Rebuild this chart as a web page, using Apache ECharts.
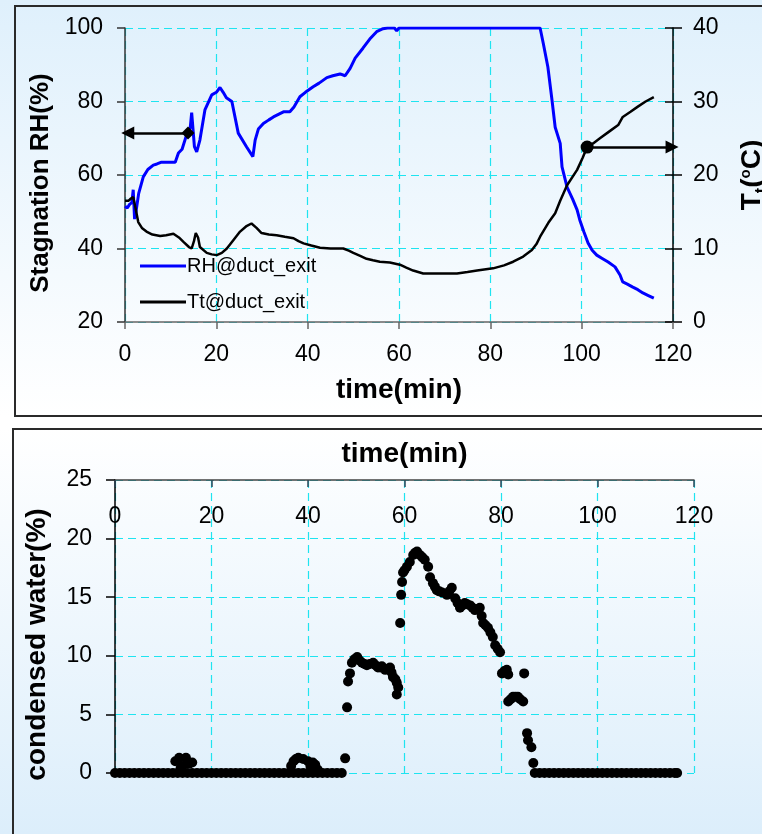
<!DOCTYPE html>
<html>
<head>
<meta charset="utf-8">
<title>Duct exit RH, temperature and condensed water</title>
<script src="https://cdn.jsdelivr.net/npm/echarts@6/dist/echarts.min.js"></script>
<style>
  html, body { margin: 0; padding: 0; width: 762px; height: 834px; overflow: hidden; background: #ffffff; }
  #bandTop { position: absolute; left: 0; top: 0; width: 762px; height: 416px; background: linear-gradient(#dff0fc, #ffffff); }
  #bandBottom { position: absolute; left: 0; top: 428px; width: 762px; height: 406px; background: linear-gradient(#ffffff, #dceefb); }
  #frameTop { position: absolute; left: 14px; top: 5px; width: 800px; height: 412px; border: 2px solid #2a2a2a; box-sizing: border-box; }
  #frameBottom { position: absolute; left: 12px; top: 428px; width: 800px; height: 500px; border: 2px solid #2a2a2a; box-sizing: border-box; }
  #chart { position: absolute; left: 0; top: 0; width: 762px; height: 834px; }
</style>
</head>
<body>
<div id="bandTop"></div>
<div id="bandBottom"></div>
<div id="frameTop"></div>
<div id="frameBottom"></div>
<div id="chart"></div>
<script>
// ---- data: [time (min), value] ----
const rhPoints = [
  [0, 51.5], [0.5, 51], [1.0, 52], [1.5, 52.5], [1.8, 56], [2.1, 48], [2.4, 50], [3.0, 55],
  [4.0, 59.5], [5.0, 61.5], [6.2, 62.7], [7.0, 63], [8.0, 63.5], [9.5, 63.5], [11.0, 63.5],
  [11.7, 66], [12.5, 67], [13.5, 71], [14.3, 73], [14.6, 77], [15.0, 77], [15.2, 67.7],
  [15.7, 66.3], [16.4, 69.5], [17.5, 77.7], [19.0, 81.8], [20.0, 82.5], [20.8, 83.8],
  [21.5, 82.5], [22.2, 81], [23.4, 80], [24.8, 71.4], [26.6, 67.7], [28.0, 65], [28.5, 69.5],
  [29.2, 72.5], [30.3, 74], [31.5, 75], [32.5, 75.8], [34.7, 77.2], [36.1, 77.2], [37.0, 78.5],
  [38.3, 81.3], [39.5, 82.5], [41.2, 84], [42.5, 85], [44.2, 86.5], [45.5, 87], [47.1, 87.5],
  [48.2, 87], [49.3, 89], [50.4, 91.8], [52.1, 94.5], [53.6, 97], [55.1, 99], [56.5, 99.8],
  [57.5, 100], [59.0, 100], [59.5, 99.2], [60.0, 100], [70.0, 100], [80.0, 100], [90.9, 100],
  [91.6, 95.8], [92.6, 89.4], [93.5, 80.4], [94.2, 73], [95.3, 68.6], [95.7, 62.2], [96.8, 56.7],
  [98.0, 53.5], [99.0, 50.5], [99.6, 47.7], [100.5, 44.5], [101.4, 41.5], [102.3, 39.5],
  [103.3, 38.2], [104.5, 37.3], [105.8, 36.3], [107.3, 35], [108.4, 32.8], [109.0, 30.9],
  [110.0, 30.3], [111.2, 29.5], [112.3, 28.8], [113.4, 27.9], [114.6, 27.2], [115.8, 26.5]
];

const ttPoints = [
  [0, 16.5], [0.8, 16.5], [1.3, 16.8], [1.8, 17], [2.3, 15.5], [2.9, 13.6], [3.7, 12.8],
  [4.7, 12.3], [6, 11.9], [7.7, 11.7], [9, 11.8], [10.6, 12], [11.8, 11.5], [12.8, 10.9],
  [14, 10.2], [14.6, 10], [15.1, 11], [15.5, 12.1], [16, 11.5], [16.4, 10.2], [17.9, 9.4],
  [19, 9.2], [20.1, 9.1], [21.2, 9.4], [22.3, 10], [23.8, 11.2], [25.2, 12.3], [26.5, 13],
  [27.7, 13.4], [28.8, 12.8], [29.9, 12.1], [31.5, 11.9], [33.2, 11.8], [35, 11.6],
  [36.9, 11.4], [38, 11], [39.1, 10.7], [40.8, 10.4], [42.7, 10.1], [45, 10], [47.8, 10],
  [49, 9.7], [50, 9.4], [51.5, 9], [52.9, 8.6], [54.3, 8.4], [55.8, 8.2], [58, 8.1],
  [60.2, 7.8], [61.6, 7.4], [63.1, 7], [65.3, 6.6], [69, 6.6], [72.7, 6.6], [75, 6.8],
  [77.1, 7], [80.6, 7.3], [83, 7.7], [85, 8.2], [87.2, 8.9], [89.1, 9.8], [90.1, 10.6],
  [90.9, 11.6], [92.7, 13.5], [94.2, 14.8], [95.3, 16.5], [96.8, 18.6], [99, 20.7],
  [100.2, 22.3], [101.2, 23.8], [102.5, 24.3], [104, 25], [106, 25.9], [108, 26.8],
  [109, 27.9], [110.7, 28.6], [112.3, 29.3], [114, 30], [115.8, 30.6]
];

const waterPoints = [
  [0, 0], [1, 0], [2, 0], [3, 0], [4, 0], [5, 0], [6, 0], [7, 0], [8, 0], [9, 0], [10, 0],
  [11, 0], [12, 0], [13, 0], [14, 0], [15, 0], [16, 0], [17, 0],
  [12.5, 1.0], [13.3, 1.3], [13.6, 0.4], [14, 0.6], [14.7, 1.3], [15.3, 0.8], [16, 0.9],
  [18, 0], [19, 0], [20, 0], [21, 0], [22, 0], [23, 0], [24, 0], [25, 0], [26, 0], [27, 0],
  [28, 0], [29, 0], [30, 0], [31, 0], [32, 0], [33, 0], [34, 0], [35, 0], [36, 0], [37, 0],
  [38, 0], [39, 0], [40, 0], [41, 0], [42, 0], [43, 0], [44, 0], [45, 0], [46, 0], [47, 0],
  [36.5, 0.6], [37, 1.0], [37.5, 1.2], [38, 1.3], [39, 1.2], [40, 1.0], [40.5, 0.6],
  [41, 0.9], [41.5, 0.7], [42, 0.3],
  [47.7, 1.25], [48.1, 5.6], [48.3, 7.8], [48.7, 8.5], [49.1, 9.4], [49.6, 9.7], [50.2, 9.9],
  [50.7, 9.6], [51.2, 9.4], [51.7, 9.3], [52.2, 9.2], [52.8, 9.3], [53.5, 9.4], [54, 9.2],
  [54.5, 9.0], [55, 9.0], [55.3, 9.1], [56, 8.8], [56.5, 8.9], [57, 9.0], [57.3, 8.6],
  [57.6, 8.2], [58.1, 8.0], [58.4, 7.7], [58.7, 7.3], [58.4, 6.7],
  [59.1, 12.8], [59.3, 15.2], [59.5, 16.3], [59.7, 17.1], [60.0, 17.3], [60.5, 17.6],
  [61.1, 18.0], [61.8, 18.6], [62.2, 18.8], [62.6, 18.9], [63.2, 18.6], [63.7, 18.4],
  [64.2, 18.2], [64.9, 17.6], [65.3, 16.7], [65.9, 16.2], [66.3, 15.9], [66.7, 15.6],
  [67.2, 15.5], [67.8, 15.4], [68.8, 15.2], [69.3, 15.5], [69.8, 15.8], [70.5, 14.9],
  [71, 14.5], [71.5, 14.1], [72, 14.3], [72.5, 14.5], [73, 14.4], [73.6, 14.3], [74.1, 14.1],
  [74.6, 13.9], [75.1, 14.0], [75.6, 14.1], [76, 13.4], [76.3, 12.8], [76.8, 12.6],
  [77.3, 12.4], [77.8, 12.0], [78.3, 11.6], [78.8, 10.9], [79.3, 10.6], [79.8, 10.3],
  [80.2, 8.5], [80.7, 8.7], [81.2, 8.8], [81.5, 8.4], [84.8, 8.5],
  [81.5, 6.1], [82, 6.3], [82.5, 6.5], [83, 6.5], [83.5, 6.5], [84, 6.3], [84.6, 6.1],
  [85.4, 3.4], [85.6, 2.8], [86.3, 2.2], [86.7, 0.85],
  [87, 0], [88, 0], [89, 0], [90, 0], [91, 0], [92, 0], [93, 0], [94, 0], [95, 0], [96, 0],
  [97, 0], [98, 0], [99, 0], [100, 0], [101, 0], [102, 0], [103, 0], [104, 0], [105, 0],
  [106, 0], [107, 0], [108, 0], [109, 0], [110, 0], [111, 0], [112, 0], [113, 0], [114, 0],
  [115, 0], [116, 0], [116.5, 0]
];

// pointer arrows: from a marked point on each curve to the axis it belongs to
const rhPointer = { from: [13.8, 71.4], to: [0.6, 71.4] };
const ttPointer = { from: [101.2, 23.8], to: [119.8, 23.8] };

const seriesNames = ['RH@duct_exit', 'Tt@duct_exit', 'condensed water'];
const timeTicks = { min: 0, max: 120, step: 20 };
const rhTicks = { min: 20, max: 100, step: 20 };
const ttTicks = { min: 0, max: 40, step: 10 };
const waterTicks = { min: 0, max: 25, step: 5 };

// ---- styling ----
const FONT = '"Liberation Sans", Arial, sans-serif';
const GRID_COLOR = '#1ee4f0';
const dashed = { color: GRID_COLOR, width: 1.2, type: [8, 5] };
const tickFont = { fontSize: 23, color: '#000', fontFamily: FONT };
const titleFont = { fontSize: 26, fontWeight: 'bold', color: '#000', fontFamily: FONT };
const wideTitleFont = { fontSize: 28, fontWeight: 'bold', color: '#000', fontFamily: FONT };

const chart = echarts.init(document.getElementById('chart'), null, { renderer: 'canvas' });

const option = {
  animation: false,
  backgroundColor: 'transparent',
  textStyle: { fontFamily: FONT },
  grid: [
    { left: 125, right: 89, top: 28, bottom: 512, containLabel: false, outerBoundsMode: 'none' },
    { left: 115, right: 68, top: 480, bottom: 61, containLabel: false, outerBoundsMode: 'none' }
  ],
  legend: {
    data: [seriesNames[0], seriesNames[1]],
    orient: 'vertical',
    left: 140,
    top: 256,
    padding: 0,
    itemGap: 16,
    itemWidth: 46,
    itemHeight: 3,
    icon: 'rect',
    textStyle: { fontSize: 20, color: '#000', fontFamily: FONT, padding: [0, 0, 0, -4] },
    selectedMode: false
  },
  xAxis: [
    {
      gridIndex: 0, type: 'value', position: 'bottom',
      min: timeTicks.min, max: timeTicks.max, interval: timeTicks.step,
      axisLine: { lineStyle: { color: '#666', width: 1.5 } },
      axisTick: { show: true, length: 7, lineStyle: { color: '#666', width: 1.5 } },
      axisLabel: Object.assign({ margin: 21 }, tickFont),
      splitLine: { show: true, lineStyle: dashed },
      name: 'time(min)', nameLocation: 'middle', nameGap: 54, nameTextStyle: wideTitleFont
    },
    {
      gridIndex: 1, type: 'value', position: 'top',
      min: timeTicks.min, max: timeTicks.max, interval: timeTicks.step,
      axisLine: { onZero: false, lineStyle: { color: '#444', width: 1.5 } },
      axisTick: { show: true, inside: true, length: 7, lineStyle: { color: '#345', width: 1.5 } },
      axisLabel: Object.assign({ inside: true, margin: 25 }, tickFont),
      splitLine: { show: true, lineStyle: dashed },
      name: 'time(min)', nameLocation: 'middle', nameGap: 12, nameTextStyle: wideTitleFont
    }
  ],
  yAxis: [
    {
      gridIndex: 0, type: 'value', position: 'left',
      min: rhTicks.min, max: rhTicks.max, interval: rhTicks.step,
      axisLine: { show: true, lineStyle: { color: '#333', width: 1.5 } },
      axisTick: { show: true, length: 8, lineStyle: { color: '#333', width: 1.5 } },
      axisLabel: Object.assign({ margin: 22 }, tickFont),
      splitLine: { show: true, lineStyle: dashed },
      name: 'Stagnation RH(%)', nameLocation: 'middle', nameGap: 70,
      nameTextStyle: Object.assign({ padding: [0, 16, 0, 0] }, titleFont)
    },
    {
      gridIndex: 0, type: 'value', position: 'right',
      min: ttTicks.min, max: ttTicks.max, interval: ttTicks.step,
      axisLine: { show: true, lineStyle: { color: '#000', width: 1.5 } },
      axisTick: { show: true, length: 9, lineStyle: { color: '#000', width: 1.5 } },
      axisLabel: Object.assign({ margin: 20 }, tickFont),
      splitLine: { show: false },
      name: '{a|T}{s|t}{a|(}{o|o}{a|C)}',
      nameLocation: 'middle', nameGap: 65,
      nameTextStyle: {
        color: '#000', fontFamily: FONT, fontWeight: 'bold', fontSize: 28,
        rich: {
          a: { fontSize: 28, fontWeight: 'bold', color: '#000', fontFamily: FONT },
          s: { fontSize: 16, fontWeight: 'bold', color: '#000', fontFamily: FONT, verticalAlign: 'bottom', padding: [0, 0, -4, 0] },
          o: { fontSize: 15, fontWeight: 'bold', color: '#000', fontFamily: FONT, verticalAlign: 'top' }
        }
      }
    },
    {
      // inner half of the crossing ticks on the temperature axis
      gridIndex: 0, type: 'value', position: 'right',
      min: ttTicks.min, max: ttTicks.max, interval: ttTicks.step,
      axisLine: { show: false },
      axisTick: { show: true, inside: true, length: 8, lineStyle: { color: '#000', width: 1.5 } },
      axisLabel: { show: false },
      splitLine: { show: false }
    },
    {
      gridIndex: 1, type: 'value', position: 'left',
      min: waterTicks.min, max: waterTicks.max, interval: waterTicks.step,
      axisLine: { show: true, onZero: false, lineStyle: { color: '#000', width: 1.5 } },
      axisTick: { show: true, length: 9, lineStyle: { color: '#000', width: 1.5 } },
      axisLabel: Object.assign({ margin: 23 }, tickFont),
      splitLine: { show: true, lineStyle: dashed },
      name: 'condensed water(%)', nameLocation: 'middle', nameGap: 64,
      nameTextStyle: Object.assign({ padding: [0, 36, 0, 0] }, wideTitleFont)
    }
  ],
  series: [
    {
      name: seriesNames[0], type: 'line', xAxisIndex: 0, yAxisIndex: 0,
      data: rhPoints, showSymbol: false, symbol: 'none',
      lineStyle: { color: '#0000ff', width: 3 }, itemStyle: { color: '#0000ff' },
      z: 3,
      markLine: {
        silent: true, animation: false,
        symbol: ['diamond', 'triangle'], symbolSize: [13, 13],
        label: { show: false },
        lineStyle: { color: '#000', width: 2.5, type: 'solid' },
        itemStyle: { color: '#000' },
        data: [[{ coord: rhPointer.from }, { coord: rhPointer.to }]]
      }
    },
    {
      name: seriesNames[1], type: 'line', xAxisIndex: 0, yAxisIndex: 1,
      data: ttPoints, showSymbol: false, symbol: 'none',
      lineStyle: { color: '#000000', width: 2.5 }, itemStyle: { color: '#000000' },
      z: 4,
      markLine: {
        silent: true, animation: false,
        symbol: ['circle', 'triangle'], symbolSize: [13, 13],
        label: { show: false },
        lineStyle: { color: '#000', width: 2.5, type: 'solid' },
        itemStyle: { color: '#000' },
        data: [[{ coord: ttPointer.from }, { coord: ttPointer.to }]]
      }
    },
    {
      name: seriesNames[2], type: 'scatter', xAxisIndex: 1, yAxisIndex: 3,
      data: waterPoints, symbol: 'circle', symbolSize: 10,
      itemStyle: { color: '#000000', opacity: 1 }
    }
  ]
};

chart.setOption(option);
</script>
</body>
</html>
